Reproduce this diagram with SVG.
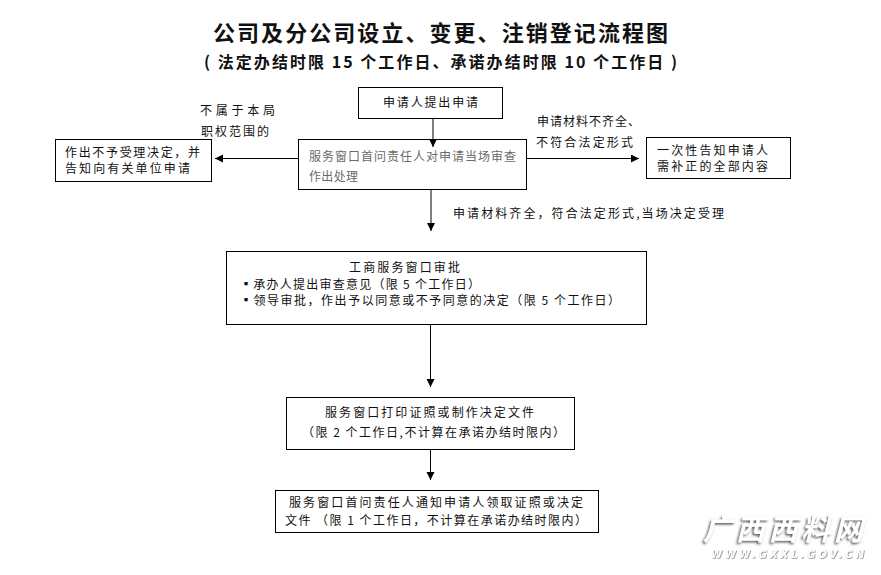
<svg xmlns="http://www.w3.org/2000/svg" width="881" height="575" viewBox="0 0 881 575">
<style>
text{font-family:"Noto Sans CJK SC","Liberation Serif",sans-serif;font-size:12px;fill:#111}
.b{fill:#fff;stroke:#000;stroke-width:1}
.c{stroke:#000;stroke-width:1;fill:none;marker-end:url(#ah)}
.g{fill:#6a6a6a}
.t{font-family:"Noto Sans CJK SC",sans-serif;font-weight:700}
.wm{font-family:"Noto Sans CJK SC",sans-serif;font-weight:700;font-style:italic;font-size:29px;fill:#fff;filter:url(#sh)}
.wu{font-family:"DejaVu Sans",sans-serif;font-weight:700;font-style:italic;font-size:10px;fill:#fff;filter:url(#sh2)}
</style>
<defs>
<marker id="ah" markerUnits="userSpaceOnUse" markerWidth="9" markerHeight="9" refX="8" refY="4" orient="auto"><path d="M0 0L8 4L0 8Z" fill="#000"/></marker>
<filter id="sh" x="-10%" y="-30%" width="120%" height="160%"><feDropShadow dx="-1.500" dy="1.500" stdDeviation="1.200" flood-color="#555"/></filter>
<filter id="sh2" x="-10%" y="-50%" width="120%" height="200%"><feDropShadow dx="0.500" dy="0.500" stdDeviation="0.700" flood-color="#444"/></filter>
</defs>
<rect width="881" height="575" fill="#fff"/>
<g id="title">
<text class="t" x="213" y="41" style="font-size:22px" textLength="455">公司及分公司设立、变更、注销登记流程图</text>
<text class="t" x="204" y="68" style="font-size:16px" textLength="473">( 法定办结时限 15 个工作日、承诺办结时限 10 个工作日 )</text>
</g>
<g id="n-apply">
<rect class="b" x="358.500" y="87.500" width="144" height="31"/>
<text x="383" y="107" textLength="95">申请人提出申请</text>
</g>
<g id="n-check">
<rect class="b" x="298.500" y="139.500" width="228" height="50"/>
<text class="g" x="309" y="161" textLength="207">服务窗口首问责任人对申请当场审查</text>
<text class="g" x="309" y="181" textLength="49">作出处理</text>
</g>
<g id="n-reject">
<rect class="b" x="55.500" y="139.500" width="156" height="42"/>
<text x="65" y="157" textLength="135">作出不予受理决定，并</text>
<text x="65" y="173" textLength="125">告知向有关单位申请</text>
</g>
<g id="n-notify">
<rect class="b" x="646.500" y="137.500" width="144" height="41"/>
<text x="657" y="155" textLength="111">一次性告知申请人</text>
<text x="657" y="171" textLength="111">需补正的全部内容</text>
</g>
<g id="labels">
<text x="200" y="115" textLength="75">不属于本局</text>
<text x="201" y="136" textLength="68">职权范围的</text>
<text x="537" y="126" textLength="103">申请材料不齐全、</text>
<text x="536" y="147" textLength="97">不符合法定形式</text>
<text x="453" y="218" textLength="271">申请材料齐全，符合法定形式,当场决定受理</text>
</g>
<g id="n-review">
<rect class="b" x="226.500" y="251.500" width="420" height="73"/>
<text x="349" y="272" textLength="111">工商服务窗口审批</text>
<text x="240" y="289" textLength="240">▪承办人提出审查意见（限 5 个工作日）</text>
<text x="240" y="305" textLength="380">▪领导审批，作出予以同意或不予同意的决定（限 5 个工作日）</text>
</g>
<g id="n-print">
<rect class="b" x="286.500" y="397.500" width="288" height="52"/>
<text x="325" y="417" textLength="209">服务窗口打印证照或制作决定文件</text>
<text x="302" y="437" textLength="263">（限 2 个工作日,不计算在承诺办结时限内）</text>
</g>
<g id="n-collect">
<rect class="b" x="275.500" y="490.500" width="323" height="42"/>
<text x="289" y="507" textLength="294">服务窗口首问责任人通知申请人领取证照或决定</text>
<text x="285" y="525" textLength="302">文件 （限 1 个工作日，不计算在承诺办结时限内）</text>
</g>
<g id="connectors">
<path class="c" d="M433 118V147"/>
<path class="c" d="M431 189V231"/>
<path class="c" d="M430.500 324V387"/>
<path class="c" d="M430.500 450V480"/>
<path class="c" d="M298 158.500H215"/>
<path class="c" d="M526 158.500H639"/>
</g>
<g id="watermark">
<text class="wm" x="703" y="540" textLength="160">广西西料网</text>
<text class="wu" x="711" y="558" textLength="153">WWW.GXXL.GOV.CN</text>
</g>
</svg>
